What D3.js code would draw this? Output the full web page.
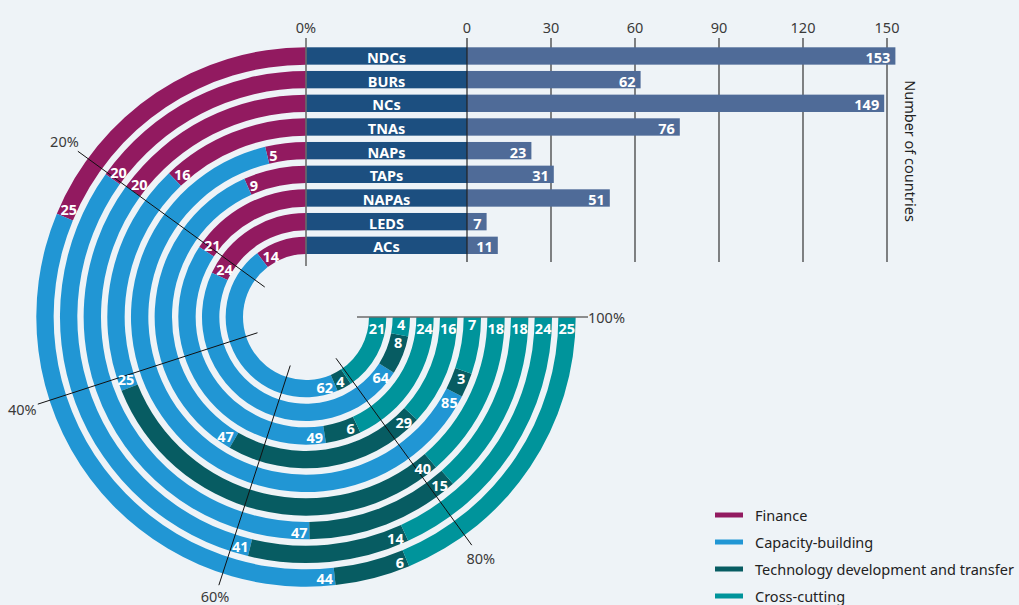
<!DOCTYPE html>
<html>
<head>
<meta charset="utf-8">
<script src="https://cdn.jsdelivr.net/npm/d3@7"></script>
<style>
body { margin: 0; background: #eef3f7; }
svg { display: block; font-family: "Noto Sans", sans-serif; }
</style>
</head>
<body>
<svg id="svg1" width="1019" height="605"></svg>
<script>
// data
var docs = ['NDCs', 'BURs', 'NCs', 'TNAs', 'NAPs', 'TAPs', 'NAPAs', 'LEDS', 'ACs'];
var countries = [153, 62, 149, 76, 23, 31, 51, 7, 11];
var themes = ['Finance', 'Capacity-building', 'Technology development and transfer', 'Cross-cutting'];
var finance = [25, 20, 20, 16, 5, 9, 21, 24, 14];
var capacity = [44, 41, 47, 25, 85, 47, 49, 64, 62];
var technology = [6, 14, 15, 40, 3, 29, 6, 8, 4];
var crossCutting = [25, 24, 18, 18, 7, 16, 24, 4, 21];
var countTicks = [0, 30, 60, 90, 120, 150];
var pctTicks = [0, 20, 40, 60, 80, 100];

var themeColors = ['#921a60', '#2196d4', '#075c62', '#00949b'];

var svg = d3.select('svg');
var cx = 306, cy = 317;
var fs = 14.5;

// one band scale drives both the bar rows and the ring radii
var y = d3.scaleBand().domain(docs).range([47.3, 254]).paddingInner(0.267);
var x = d3.scaleLinear().domain([0, 150]).range([467, 887]);
var ang = d3.scaleLinear().domain([0, 100]).range([0, 1.5 * Math.PI]); // counter-clockwise from top
var color = d3.scaleOrdinal().domain(themes).range(themeColors);

function outerR(d) { return cy - y(d); }
function innerR(d) { return cy - y(d) - y.bandwidth(); }
function px(r, a) { return cx - r * Math.sin(a); }
function py(r, a) { return cy - r * Math.cos(a); }

// bar grid
svg.selectAll('.grid')
    .data(countTicks.slice(1))
    .enter()
    .append('line')
    .attr('x1', function(d) { return x(d); })
    .attr('x2', function(d) { return x(d); })
    .attr('y1', 38)
    .attr('y2', 262)
    .attr('stroke', '#333')
    .attr('stroke-width', 1.2);

svg.selectAll('.tick')
    .data(countTicks)
    .enter()
    .append('text')
    .attr('x', function(d) { return x(d); })
    .attr('y', 27)
    .attr('text-anchor', 'middle')
    .attr('dominant-baseline', 'central')
    .attr('font-size', fs)
    .attr('fill', '#3a3a3a')
    .text(function(d) { return d; });

// label bars + value bars
var rows = docs.map(function(d, i) { return { doc: d, n: countries[i] }; });

svg.selectAll('.lab')
    .data(rows)
    .enter()
    .append('rect')
    .attr('x', cx)
    .attr('y', function(d) { return y(d.doc); })
    .attr('width', x(0) - cx)
    .attr('height', y.bandwidth())
    .attr('fill', '#1c4f80');

svg.selectAll('.labtxt')
    .data(rows)
    .enter()
    .append('text')
    .attr('x', (cx + x(0)) / 2)
    .attr('y', function(d) { return y(d.doc) + y.bandwidth() / 2 + 1; })
    .attr('text-anchor', 'middle')
    .attr('dominant-baseline', 'central')
    .attr('font-size', fs)
    .attr('font-weight', 'bold')
    .attr('fill', 'white')
    .text(function(d) { return d.doc; });

svg.selectAll('.bar')
    .data(rows)
    .enter()
    .append('rect')
    .attr('x', x(0))
    .attr('y', function(d) { return y(d.doc); })
    .attr('width', function(d) { return x(d.n) - x(0); })
    .attr('height', y.bandwidth())
    .attr('fill', '#4f6b98');

svg.selectAll('.val')
    .data(rows)
    .enter()
    .append('text')
    .attr('x', function(d) { return x(d.n) - 5; })
    .attr('y', function(d) { return y(d.doc) + y.bandwidth() / 2 + 1; })
    .attr('text-anchor', 'end')
    .attr('dominant-baseline', 'central')
    .attr('font-size', fs)
    .attr('font-weight', 'bold')
    .attr('fill', 'white')
    .text(function(d) { return d.n; });

svg.append('text')
    .attr('transform', 'translate(911,151) rotate(90)')
    .attr('text-anchor', 'middle')
    .attr('dominant-baseline', 'central')
    .attr('font-size', fs)
    .attr('fill', '#222')
    .text('Number of countries');

// ring segments
var segs = [];
docs.forEach(function(d, i) {
    var vals = [finance[i], capacity[i], technology[i], crossCutting[i]];
    var total = d3.sum(vals);
    var cum = 0;
    vals.forEach(function(v, j) {
        segs.push({ doc: d, theme: themes[j], v: v, s: cum / total * 100, e: (cum + v) / total * 100 });
        cum += v;
    });
});

var arc = d3.arc()
    .innerRadius(function(d) { return innerR(d.doc); })
    .outerRadius(function(d) { return outerR(d.doc); })
    .startAngle(function(d) { return -ang(d.s); })
    .endAngle(function(d) { return -ang(d.e); });

svg.append('g')
    .attr('transform', 'translate(' + cx + ',' + cy + ')')
    .selectAll('path')
    .data(segs)
    .enter()
    .append('path')
    .attr('d', arc)
    .attr('fill', function(d) { return color(d.theme); });

// percentage spokes
svg.selectAll('.spoke')
    .data(pctTicks)
    .enter()
    .append('line')
    .attr('x1', function(d) { return px(51, ang(d)); })
    .attr('y1', function(d) { return py(51, ang(d)); })
    .attr('x2', function(d) { return px(d === 0 ? 279 : 282, ang(d)); })
    .attr('y2', function(d) { return py(d === 0 ? 279 : 282, ang(d)); })
    .attr('stroke', function(d) { return (d === 0 || d === 100) ? '#6b6b6b' : '#111'; })
    .attr('stroke-width', function(d) { return (d === 0 || d === 100) ? 1.6 : 1; });

// zero line of the bar chart
svg.append('line')
    .attr('x1', x(0)).attr('x2', x(0))
    .attr('y1', 38).attr('y2', 262)
    .attr('stroke', '#222')
    .attr('stroke-width', 1.2);

svg.selectAll('.pct')
    .data(pctTicks)
    .enter()
    .append('text')
    .attr('font-size', fs)
    .attr('fill', '#3a3a3a')
    .attr('text-anchor', 'middle')
    .attr('dominant-baseline', 'central')
    .text(function(d) { return d + '%'; })
    .each(function(d) {
        var a = ang(d);
        var w = this.getComputedTextLength();
        var r = 282 + Math.abs(Math.sin(a)) * w / 2 + Math.abs(Math.cos(a)) * 8.5;
        d3.select(this).attr('x', px(r, a)).attr('y', Math.min(py(r, a), 596));
    });

// segment labels, near the end of each segment
svg.selectAll('.seglab')
    .data(segs)
    .enter()
    .append('text')
    .attr('text-anchor', 'middle')
    .attr('dominant-baseline', 'central')
    .attr('font-size', fs)
    .attr('font-weight', 'bold')
    .attr('fill', 'white')
    .text(function(d) { return d.v; })
    .each(function(d) {
        var rm = (outerR(d.doc) + innerR(d.doc)) / 2;
        var off = 3 + 3.5 * String(d.v).length;
        var a = ang(d.e) - off / rm;
        d3.select(this).attr('x', px(rm, a)).attr('y', py(rm, a) + 1);
    });

// legend
var legend = svg.selectAll('.leg')
    .data(themes)
    .enter()
    .append('g')
    .attr('transform', function(d, i) { return 'translate(715,' + (515 + i * 27) + ')'; });

legend.append('line')
    .attr('x1', 0).attr('x2', 28)
    .attr('stroke', function(d) { return color(d); })
    .attr('stroke-width', 5);

legend.append('text')
    .attr('x', 40)
    .attr('dominant-baseline', 'central')
    .attr('font-size', fs)
    .attr('fill', '#222')
    .text(function(d) { return d; });
</script>
</body>
</html>
